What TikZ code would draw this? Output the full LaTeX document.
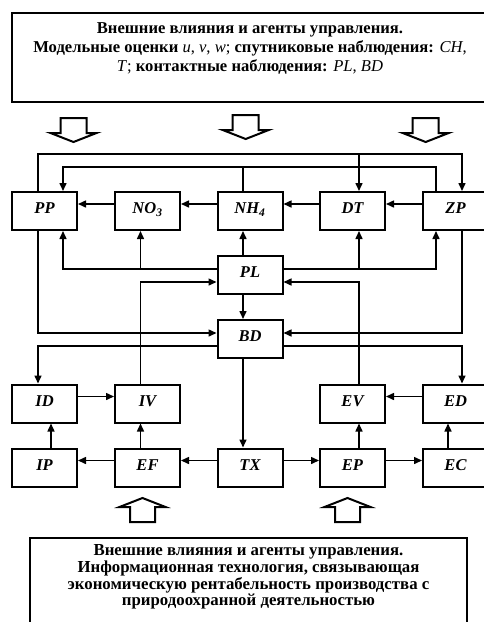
\documentclass[tikz,border=0pt]{standalone}
\usepackage{fontspec}
\setmainfont{Liberation Serif}
\usetikzlibrary{arrows.meta,positioning}

\begin{document}
\begin{tikzpicture}[x=1pt, y=-1pt, line width=1.5pt,
    block/.style={rectangle, draw, line width=2pt, minimum width=65pt, minimum height=38pt, inner sep=0pt, font=\fontsize{16.5}{18}\selectfont\bfseries\itshape, text height=11pt, text depth=6pt},
    link/.style={-{Triangle[length=8pt, width=7pt]}},
    panel/.style={rectangle, draw, line width=2pt},
    panelfont/.style={align=center, inner sep=3pt},
    hollow/.style={line width=2pt, line join=miter}]
    \clip (0,0) rectangle (484,622);

    % Outer panels.
    \node[panel, minimum width=476pt, minimum height=89pt] (topbox) at (250,57.5) {};
    \node[panelfont, font=\fontsize{16.6}{19}\selectfont, below=7pt of topbox.north] (toptext)
        {\textbf{Внешние влияния и агенты управления.}\\
         \textbf{Модельные оценки} \textit{u}, \textit{v}, \textit{w}; \textbf{спутниковые наблюдения:} \textit{CH},\\
         \textit{T}; \textbf{контактные наблюдения:} \textit{PL}, \textit{BD}};
    \node[panel, minimum width=437pt, minimum height=102pt] (botbox) at (248.5,589) {};
    \node[panelfont, font=\fontsize{16.8}{16.7}\selectfont\bfseries, below=4pt of botbox.north] (bottext)
        {Внешние влияния и агенты управления.\\
         Информационная технология, связывающая\\
         экономическую рентабельность производства с\\
         природоохранной деятельностью};

    % Hollow arrows.
    \foreach \x/\y in {73.5/118, 245.7/115, 425.7/118}
        \draw[hollow] (\x-13,\y) -- (\x+13,\y) -- (\x+13,\y+15) -- (\x+23,\y+15) -- (\x,\y+24) -- (\x-23,\y+15) -- (\x-13,\y+15) -- cycle;
    \foreach \x in {142.5, 347.5}
        \draw[hollow] (\x-12.5,522) -- (\x+12.5,522) -- (\x+12.5,507) -- (\x+23,507) -- (\x,498) -- (\x-23,507) -- (\x-12.5,507) -- cycle;

    % Blocks.
    \foreach \name/\x/\txt in {PP/44.5/PP, NO/147.5/NO\textsubscript{3}, NH/250/NH\textsubscript{4}, DT/352.5/DT, ZP/455.5/ZP}
        \node[block] (\name) at (\x,211) {\txt};
    \node[block] (PL) at (250,275) {PL};
    \node[block] (BD) at (250,339) {BD};
    \foreach \name/\x in {ID/44.5, IV/147.5, EV/352.5, ED/455.5}
        \node[block] (\name) at (\x,403.5) {\name};
    \foreach \name/\x in {IP/44.5, EF/147.5, TX/250, EP/352.5, EC/455.5}
        \node[block] (\name) at (\x,467.5) {\name};

    % Line positions.
    \coordinate (xa) at (38,0);  \coordinate (xb) at (63,0);
    \coordinate (xc) at (140.5,0); \coordinate (xd) at (243,0);
    \coordinate (xe) at (359,0); \coordinate (xf) at (436,0);
    \coordinate (xg) at (462,0); \coordinate (xh) at (51,0);
    \coordinate (xi) at (448,0);
    \coordinate (ya) at (0,154); \coordinate (yb) at (0,167);
    \coordinate (yc) at (0,269); \coordinate (yd) at (0,282);
    \coordinate (ye) at (0,333); \coordinate (yf) at (0,346);

    % Top loops.
    \draw[link] (xa |- PP.north) |- (xg |- ya) -- (xg |- ZP.north);
    \draw[link] (xe |- ya) -- (xe |- DT.north);
    \draw[link] (xf |- ZP.north) |- (xb |- yb) -- (xb |- PP.north);
    \draw (xd |- NH.north) -- (xd |- yb);

    % Chain.
    \foreach \a/\b in {ZP/DT, DT/NH, NH/NO, NO/PP}
        \draw[link] ([yshift=7pt]\a.west) -- ([yshift=7pt]\b.east);

    % PL connections.
    \draw[link] (PL.west |- yc) -| (xb |- PP.south);
    \draw[link] (xc |- yc) -- (xc |- NO.south);
    \draw[link] (PL.east |- yc) -| (xf |- ZP.south);
    \draw[link] (xe |- yc) -- (xe |- DT.south);
    \draw[link] (xd |- PL.north) -- (xd |- NH.south);
    \draw[link] (xd |- PL.south) -- (xd |- BD.north);
    \draw[link] (xc |- IV.north) |- (PL.west |- yd);
    \draw[link] (xe |- EV.north) |- (PL.east |- yd);

    % BD connections.
    \draw[link] (xa |- PP.south) |- (BD.west |- ye);
    \draw[link] (xg |- ZP.south) |- (BD.east |- ye);
    \draw[link] (BD.west |- yf) -| (xa |- ID.north);
    \draw[link] (BD.east |- yf) -| (xg |- ED.north);
    \draw[link] (xd |- BD.south) -- (xd |- TX.north);

    % Lower rows.
    \foreach \a/\b in {ID/IV, TX/EP, EP/EC}
        \draw[link] ([yshift=7pt]\a.east) -- ([yshift=7pt]\b.west);
    \foreach \a/\b in {ED/EV, TX/EF, EF/IP}
        \draw[link] ([yshift=7pt]\a.west) -- ([yshift=7pt]\b.east);
    \draw[link] (xh |- IP.north) -- (xh |- ID.south);
    \draw[link] (xc |- EF.north) -- (xc |- IV.south);
    \draw[link] (xe |- EP.north) -- (xe |- EV.south);
    \draw[link] (xi |- EC.north) -- (xi |- ED.south);
\end{tikzpicture}
\end{document}
